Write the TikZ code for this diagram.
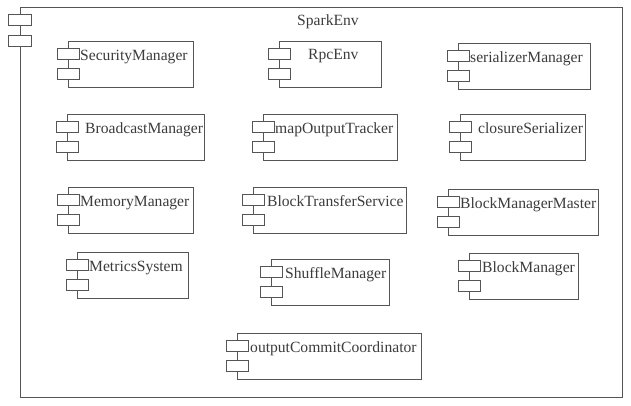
\documentclass[tikz,border=0pt]{standalone}
\usepackage{fontspec}
\setmainfont{Liberation Serif}
\definecolor{lin}{RGB}{85,85,85}
\definecolor{txt}{RGB}{60,60,60}
\tikzset{
  cbox/.style={draw=lin, line width=0.9pt, inner sep=0pt, minimum height=46pt},
  tabbox/.style={draw=lin, fill=white, line width=0.9pt, inner sep=0pt, minimum width=22pt, minimum height=11pt},
  ctext/.style={text=txt, inner sep=0pt, font=\fontsize{15.6}{19}\selectfont},
}
\newcommand\spcomp[7]{%
  \node[cbox, minimum width=#4pt, anchor=north west] (#1) at (#2,#3) {};
  \node[tabbox, anchor=north] (#1-a) at ([yshift=-7pt]#1.north west) {};
  \node[tabbox, anchor=north] (#1-b) at ([yshift=-27pt]#1.north west) {};
  \node[ctext, anchor=base west] (#1-l) at (#5+2,#3+#7) {#6};
}
\begin{document}
\begin{tikzpicture}[x=1pt, y=-1pt]
\useasboundingbox (0,0) rectangle (631,405);
\fill[white] (0,0) rectangle (631,405);
% outer SparkEnv component
\node[draw=lin, line width=0.9pt, inner sep=0pt, minimum width=602pt, minimum height=390pt, anchor=north west] (env) at (20,7) {};
\node[tabbox, minimum width=23pt, anchor=north] (env-a) at ([yshift=-7pt]env.north west) {};
\node[tabbox, minimum width=23pt, anchor=north] (env-b) at ([yshift=-28pt]env.north west) {};
\node[ctext] (env-l) at (328,22) {SparkEnv};
% components
\spcomp{sm}{68}{41}{125}{78}{SecurityManager}{19}
\spcomp{rpc}{279}{41}{102}{306}{RpcEnv}{18}
\spcomp{ser}{458}{43}{132}{468}{serializerManager}{19}
\spcomp{bc}{67}{114}{137}{83}{BroadcastManager}{19}
\spcomp{mot}{263}{114}{134}{273}{mapOutputTracker}{19}
\spcomp{cs}{460}{114}{125}{476}{closureSerializer}{19}
\spcomp{mm}{68}{187}{125}{78}{MemoryManager}{19}
\spcomp{bts}{253}{187}{153}{265}{BlockTransferService}{19}
\spcomp{bmm}{448}{189}{150}{458}{BlockManagerMaster}{19}
\spcomp{ms}{77}{252}{111}{87}{MetricsSystem}{19}
\spcomp{shm}{271}{259}{118}{283}{ShuffleManager}{19}
\spcomp{bm}{469}{253}{109}{480}{BlockManager}{19}
\spcomp{occ}{237}{333}{184}{248}{outputCommitCoordinator}{19}
\end{tikzpicture}
\end{document}
